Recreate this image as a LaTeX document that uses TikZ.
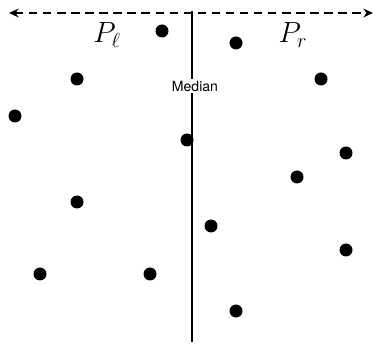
\documentclass[tikz,border=0pt]{standalone}
\usepackage{amsmath,amssymb}
\usepackage{fontspec}
\usepackage{xcolor}
\usetikzlibrary{arrows.meta}
\newfontfamily\labelfont{TeX Gyre Heros}
\definecolor{ink}{HTML}{000000}
\tikzset{
  pt/.style     ={circle, fill=ink, inner sep=0pt, minimum size=13*0.025cm},
  median/.style ={draw=ink, line width=2pt},
  axis/.style   ={draw=ink, line width=1.3pt, dash pattern=on 6pt off 4pt,
                  {Stealth[length=2.4mm,width=2.2mm]}-{Stealth[length=2.4mm,width=2.2mm]}},
  setlbl/.style ={font=\fontsize{21}{25}\selectfont, inner sep=0pt},
  tag/.style    ={font=\labelfont\fontsize{10}{12}\selectfont, fill=white, inner sep=1.5pt},
}
\begin{document}
\begin{tikzpicture}[x=0.025cm,y=-0.025cm]
  \useasboundingbox (0,0) rectangle (374,346);

  % dashed split line and the median
  \coordinate (al) at (9,13);
  \coordinate (ar) at (373,13);
  \coordinate (mt) at (192,11);
  \coordinate (mb) at (192,342);
  \draw[axis] (al) -- (ar);
  \draw[median] (mt) -- (mb);

  % points
  \foreach \x/\y [count=\i] in {162/31, 236/43, 77/79, 321/79, 15/116,
      187/140, 346/153, 297/177, 77/202, 211/226, 346/250, 40/274,
      150/274, 236/311}
    \node[pt] (p\i) at (\x,\y) {};

  \node[setlbl] (pl) at (107,35) {$P_\ell$};
  \node[setlbl] (pr) at (293,35) {$P_r$};
  \node[tag] (med) at (195,86) {Median};
\end{tikzpicture}
\end{document}
